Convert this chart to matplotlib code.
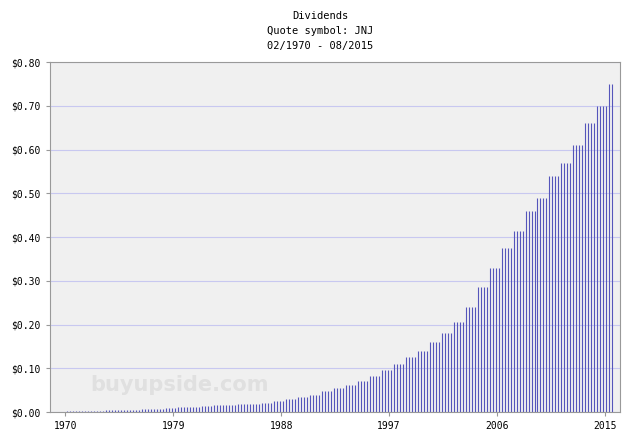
import numpy as np
import matplotlib.pyplot as plt

# quarterly dividend rate in effect per year (raise paid from Q2 on)
years = list(range(1969, 2016))
rates = [0.0026, 0.0028, 0.0030, 0.0033, 0.0037, 0.0044, 0.0050, 0.0060, 0.0075,
         0.0088, 0.0104, 0.0117, 0.0130, 0.0150, 0.0160, 0.0175, 0.0188, 0.0208,
         0.0250, 0.0300, 0.0350, 0.0400, 0.0475, 0.0550, 0.0625, 0.0700, 0.0825,
         0.0950, 0.1100, 0.1250, 0.1400, 0.1600, 0.1800, 0.2050, 0.2400, 0.2850,
         0.3300, 0.3750, 0.4150, 0.4600, 0.4900, 0.5400, 0.5700, 0.6100, 0.6600,
         0.7000, 0.7500]
tick_years = [1970, 1979, 1988, 1997, 2006, 2015]

dates, divs = [], []
for i in range(1, len(years)):
    y = years[i]
    for q in range(4):
        t = y + 0.15 + q * 0.25
        if y == 2015 and q > 2:
            break
        dates.append(t)
        divs.append(rates[i - 1] if q == 0 else rates[i])

mono = 'DejaVu Sans Mono'
fig = plt.figure(figsize=(6.4, 4.44), dpi=100)
ax = fig.add_axes([0.078, 0.072, 0.891, 0.788])
ax.set_facecolor('#f0f0f0')
ax.vlines(dates, 0, divs, color='#5555bb', linewidth=0.8)
ax.set_xlim(1968.7, 2016.3)
ax.set_ylim(0, 0.8)
ax.set_yticks(np.arange(0, 0.81, 0.1))
ax.set_yticklabels(['$%.2f' % v for v in np.arange(0, 0.81, 0.1)], fontfamily=mono, fontsize=7)
ax.set_xticks(tick_years)
ax.set_xticklabels([str(t) for t in tick_years], fontfamily=mono, fontsize=7)
ax.grid(axis='y', color='#c8c8f0', linewidth=0.8)
ax.set_axisbelow(True)
for s in ax.spines.values():
    s.set_color('#999999')
ax.tick_params(length=3, color='#999999')

fig.text(0.5, 0.975, 'Dividends\nQuote symbol: JNJ\n02/1970 - 08/2015', ha='center', va='top',
         fontfamily=mono, fontsize=7.5, linespacing=1.6)
ax.text(0.07, 0.06, 'buyupside.com', transform=ax.transAxes, fontsize=15, fontweight='bold',
        color='#e0e0e0', fontfamily='DejaVu Sans')
fig.savefig('out.png')
